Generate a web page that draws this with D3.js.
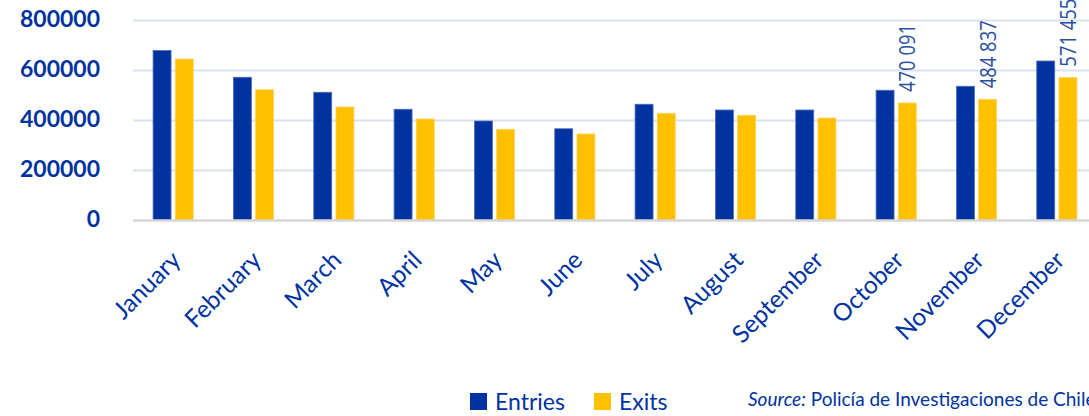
<!DOCTYPE html>
<html>
<head>
<meta charset="utf-8">
<script src="https://cdn.jsdelivr.net/npm/d3@7"></script>
<style>
  body { margin: 0; background: #fff; }
  svg { display: block; font-family: Lato, "Open Sans", sans-serif; }
</style>
</head>
<body>
<div id="chart"></div>
<script>
// ---- data ----
let months = ["January", "February", "March", "April", "May", "June",
  "July", "August", "September", "October", "November", "December"];
let entries = [680000, 573000, 513000, 445000, 398000, 367000,
  465000, 442000, 442000, 521000, 537000, 638000];
let exits = [646000, 523000, 454000, 406000, 365000, 346000,
  429000, 421000, 410000, 470091, 484837, 571455];
// only the last three exit bars carry a value label
let labelled = ["October", "November", "December"];
let yTicks = [0, 200000, 400000, 600000, 800000];
let seriesNames = ["Entries", "Exits"];
let colors = {Entries: "#0033a0", Exits: "#ffc000"};
let strokes = {Entries: "#4f6fbf", Exits: "#ffd45c"};

let width = 1089;
let height = 416;
let margin = ({top: 20.5, right: -8, bottom: 195.5, left: 133});

let svg = d3.select("#chart").append("svg")
  .attr("width", width)
  .attr("height", height);

// ---- scales ----
let x0 = d3.scaleBand()
  .domain(months)
  .range([margin.left, width - margin.right])
  .paddingInner(0.5)
  .paddingOuter(0.25);

let x1 = d3.scaleBand()
  .domain(seriesNames)
  .range([0, x0.bandwidth()])
  .paddingInner(0.19);

let y = d3.scaleLinear()
  .domain([0, 800000])
  .range([height - margin.bottom, margin.top]);

// ---- gridlines ----
svg.append("g")
  .selectAll("line")
  .data(yTicks.filter(d => d > 0))
  .join("line")
  .attr("x1", margin.left)
  .attr("x2", width)
  .attr("y1", d => y(d))
  .attr("y2", d => y(d))
  .attr("stroke", "#d9e2f3")
  .attr("stroke-width", 2);

// y axis labels
let yAxis = d3.axisLeft(y).tickValues(yTicks).tickSize(0).tickPadding(0)
  .tickFormat(d3.format("d"));
let gy = svg.append("g")
  .attr("transform", "translate(100,0)")
  .call(yAxis)
  .attr("font-family", "Lato, sans-serif");
gy.select(".domain").remove();
gy.selectAll("text")
  .attr("dy", "0.34em")
  .attr("y", -2)
  .attr("fill", "#0033a0")
  .style("font-size", "23px")
  .style("font-weight", "bold");

// ---- bars ----
let rows = months.map((m, i) => ({month: m, Entries: entries[i], Exits: exits[i]}));

let groups = svg.append("g")
  .selectAll("g")
  .data(rows)
  .join("g")
  .attr("transform", d => "translate(" + x0(d.month) + ",0)");

groups.selectAll("rect")
  .data(d => seriesNames.map(k => ({key: k, value: d[k], month: d.month})))
  .join("rect")
  .attr("x", d => x1(d.key))
  .attr("width", x1.bandwidth())
  .attr("y", d => y(d.value))
  .attr("height", d => y(0) - y(d.value))
  .attr("fill", d => colors[d.key])
  .attr("stroke", d => strokes[d.key])
  .attr("stroke-width", 0.8);

// value labels (rotated) on selected exit bars
groups.filter(d => labelled.includes(d.month))
  .append("text")
  .attr("transform", d => "translate(" + (x1("Exits") + x1.bandwidth() / 2 + 8) + "," + (y(d.Exits) - 11) + ") rotate(-90)")
  .attr("text-anchor", "start")
  .attr("fill", "#2a4f9f")
  .style("font-family", "'Open Sans', sans-serif")
  .style("font-size", "22px")
  .attr("textLength", 68)
  .attr("lengthAdjust", "spacingAndGlyphs")
  .text(d => d3.format(",")(d.Exits).replace(/,/g, " "));

// baseline
svg.append("line")
  .attr("x1", margin.left)
  .attr("x2", width)
  .attr("y1", y(0))
  .attr("y2", y(0))
  .attr("stroke", "#d6d6d6")
  .attr("stroke-width", 2.5);

// ---- x axis labels ----
let xAxis = d3.axisBottom(x0).tickSize(0).tickPadding(0);
let gx = svg.append("g")
  .attr("transform", "translate(-3," + (y(0) + 29) + ")")
  .call(xAxis)
  .attr("font-family", "Lato, sans-serif");
gx.select(".domain").remove();
gx.selectAll("text")
  .attr("y", 0)
  .attr("dy", "0.7em")
  .attr("text-anchor", "end")
  .attr("transform", "rotate(-45)")
  .attr("fill", "#0033a0")
  .style("font-size", "24.5px");

// ---- legend ----
let legend = svg.append("g").attr("transform", "translate(470,393)");
let legendX = [0, 124];
seriesNames.forEach((k, i) => {
  let g = legend.append("g").attr("transform", "translate(" + legendX[i] + ",0)");
  g.append("rect").attr("width", 17).attr("height", 17).attr("fill", colors[k]);
  g.append("text")
    .attr("x", 25)
    .attr("y", 17)
    .attr("fill", "#0033a0")
    .style("font-size", "23px")
    .text(k);
});

// source
let src = svg.append("text")
  .attr("x", 748)
  .attr("y", 406)
  .attr("fill", "#0033a0")
  .style("font-size", "19px");
src.append("tspan").style("font-style", "italic").text("Source:");
src.append("tspan").text(" Policía de Investigaciones de Chile");
</script>
</body>
</html>
